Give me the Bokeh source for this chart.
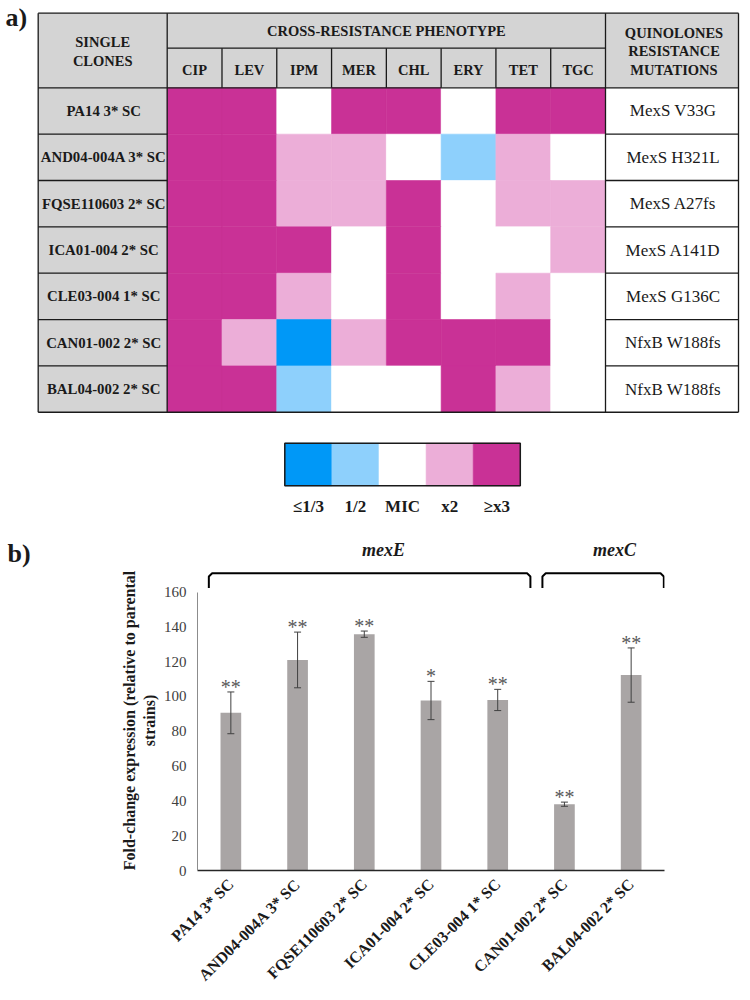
import math
from bokeh.plotting import figure
from bokeh.models import ColumnDataSource, Range1d, FixedTicker, FactorRange
from bokeh.layouts import column
from bokeh.embed import file_html
from bokeh.resources import INLINE
from bokeh.core.properties import value

# ---------------- data ----------------
clones = ["PA14 3* SC", "AND04-004A 3* SC", "FQSE110603 2* SC", "ICA01-004 2* SC",
          "CLE03-004 1* SC", "CAN01-002 2* SC", "BAL04-002 2* SC"]
antibiotics = ["CIP", "LEV", "IPM", "MER", "CHL", "ERY", "TET", "TGC"]
mutations = ["MexS V33G", "MexS H321L", "MexS A27fs", "MexS A141D", "MexS G136C",
             "NfxB W188fs", "NfxB W188fs"]
# phenotype level: -2 = <=1/3 MIC, -1 = 1/2 MIC, 0 = MIC, 1 = x2, 2 = >=x3
phenotype = [
    [2, 2, 0, 2, 2, 0, 2, 2],
    [2, 2, 1, 1, 0, -1, 1, 0],
    [2, 2, 1, 1, 2, 0, 1, 1],
    [2, 2, 2, 0, 2, 0, 0, 1],
    [2, 2, 1, 0, 2, 0, 1, 0],
    [2, 1, -2, 1, 2, 2, 2, 0],
    [2, 2, -1, 0, 0, 2, 1, 0],
]
legend_levels = [-2, -1, 0, 1, 2]
legend_labels = ["≤1/3", "1/2", "MIC", "x2", "≥x3"]
level_colors = {-2: "#0098F7", -1: "#8ED0FC", 0: "#FFFFFF", 1: "#ECAED8", 2: "#C93196"}

genes = ["mexE", "mexE", "mexE", "mexE", "mexE", "mexC", "mexC"]
fold_change = [90.6, 121.0, 135.8, 97.7, 98.0, 38.1, 112.3]
fold_err = [12.0, 16.0, 1.8, 11.0, 6.1, 1.2, 15.6]
significance = ["**", "**", "**", "*", "**", "**", "**"]
y_ticks = [0, 20, 40, 60, 80, 100, 120, 140, 160]

SERIF = value("Liberation Serif")
INK = "#1a1a1a"
W = 742

# ---------------- panel a (table) ----------------
HA = 570
pa = figure(width=W, height=HA, x_range=Range1d(0, W), y_range=Range1d(HA, 0),
            output_backend="svg", toolbar_location=None, min_border=0,
            x_axis_type=None, y_axis_type=None, outline_line_color=None, frame_align=False)
pa.grid.visible = False

T_L, T_R, T_T = 37.7, 738.0, 12.7
H1, H2 = 47.7, 87.3
ROW_H = 46.35
C1, C2 = 166.7, 605.0
n_rows = len(clones)
n_cols = len(antibiotics)
COL_W = (C2 - C1) / n_cols
T_B = H2 + n_rows * ROW_H
GRAY = "#D4D4D4"

# gray header & clone column
pa.quad(left=[T_L, T_L], right=[T_R, C1], top=[T_T, H2], bottom=[H2, T_B],
        fill_color=GRAY, line_color=GRAY, line_width=0.5)

# phenotype cells
cell = dict(left=[], right=[], top=[], bottom=[], color=[])
for i, row in enumerate(phenotype):
    for j, lev in enumerate(row):
        cell["left"].append(C1 + j * COL_W)
        cell["right"].append(C1 + (j + 1) * COL_W)
        cell["top"].append(H2 + i * ROW_H)
        cell["bottom"].append(H2 + (i + 1) * ROW_H)
        cell["color"].append(level_colors[lev])
pa.quad(left="left", right="right", top="top", bottom="bottom", fill_color="color",
        line_color="color", line_width=0.6, source=ColumnDataSource(cell))

# borders
seg = dict(x0=[], y0=[], x1=[], y1=[])
def add(x0, y0, x1, y1):
    seg["x0"].append(x0); seg["y0"].append(y0); seg["x1"].append(x1); seg["y1"].append(y1)
add(T_L, T_T, T_R, T_T); add(T_L, T_B, T_R, T_B)
add(T_L, T_T, T_L, T_B); add(T_R, T_T, T_R, T_B)
add(C1, T_T, C1, T_B); add(C2, T_T, C2, T_B)
add(C1, H1, C2, H1); add(T_L, H2, T_R, H2)
for k in range(1, n_cols):
    add(C1 + k * COL_W, H1, C1 + k * COL_W, H2)
for k in range(1, n_rows):
    y = H2 + k * ROW_H
    add(T_L, y, C1, y); add(C2, y, T_R, y)
pa.segment(x0="x0", y0="y0", x1="x1", y1="y1", source=ColumnDataSource(seg),
           line_color=INK, line_width=1.3)

row_centers = [H2 + (i + 0.5) * ROW_H for i in range(n_rows)]
pa.text(x=[(T_L + C1) / 2 + 1] * n_rows, y=row_centers, text=clones, text_font=SERIF,
        text_font_style="bold", text_font_size="14.8px", text_align="center",
        text_baseline="middle", text_color=INK)
pa.text(x=[(C2 + T_R) / 2 + 1] * n_rows, y=row_centers, text=mutations, text_font=SERIF,
        text_font_size="17px", text_align="center", text_baseline="middle", text_color=INK)
pa.text(x=[C1 + (j + 0.5) * COL_W for j in range(n_cols)], y=[69] * n_cols, text=antibiotics,
        text_font=SERIF, text_font_style="bold", text_font_size="14.5px", text_align="center",
        text_baseline="middle", text_color=INK)
hdr_text = ["SINGLE", "CLONES", "CROSS-RESISTANCE PHENOTYPE", "QUINOLONES", "RESISTANCE", "MUTATIONS"]
hdr_x = [(T_L + C1) / 2, (T_L + C1) / 2, (C1 + C2) / 2, (C2 + T_R) / 2 + 2, (C2 + T_R) / 2 + 2, (C2 + T_R) / 2 + 2]
hdr_y = [41.7, 60.7, 30.5, 32.3, 50.7, 69.0]
pa.text(x=hdr_x, y=hdr_y, text=hdr_text, text_font=SERIF, text_font_style="bold",
        text_font_size="14.5px", text_align="center", text_baseline="middle", text_color=INK)

# colour legend
LEG_L, LEG_W, LEG_T, LEG_B = 284.3, 47.1, 442.7, 485.3
nl = len(legend_levels)
pa.quad(left=[LEG_L + k * LEG_W for k in range(nl)], right=[LEG_L + (k + 1) * LEG_W for k in range(nl)],
        top=[LEG_T] * nl, bottom=[LEG_B] * nl, fill_color=[level_colors[l] for l in legend_levels],
        line_color=[level_colors[l] for l in legend_levels], line_width=0.6)
pa.quad(left=[LEG_L], right=[LEG_L + nl * LEG_W], top=[LEG_T], bottom=[LEG_B],
        fill_color=None, line_color=INK, line_width=1.5)
pa.text(x=[LEG_L + (k + 0.5) * LEG_W for k in range(nl)], y=[506] * nl, text=legend_labels,
        text_font=SERIF, text_font_style="bold", text_font_size="17px", text_align="center",
        text_baseline="middle", text_color=INK)

# panel letters and gene labels
pa.text(x=[5, 7], y=[17, 553], text=["a)", "b)"], text_font=SERIF, text_font_style="bold",
        text_font_size="26px", text_align="left", text_baseline="middle", text_color=INK)
pa.text(x=[383, 614], y=[549, 549], text=["mexE", "mexC"], text_font=SERIF,
        text_font_style="bold italic", text_font_size="18px", text_align="center",
        text_baseline="middle", text_color=INK)

# ---------------- panel b (bar chart) ----------------
HB = 422
pb = figure(width=W, height=HB, x_range=FactorRange(factors=clones, range_padding=0),
            y_range=Range1d(0, 172.4), output_backend="svg", toolbar_location=None,
            min_border_left=197, min_border_right=78, min_border_top=0, min_border_bottom=113,
            outline_line_color=None, frame_align=False)
pb.grid.visible = False

upper = [v + e for v, e in zip(fold_change, fold_err)]
lower = [v - e for v, e in zip(fold_change, fold_err)]
src = ColumnDataSource(dict(x=clones, y=fold_change, upper=upper, lower=lower, sig=significance))
pb.vbar(x="x", top="y", width=0.31, source=src, fill_color="#A9A5A5", line_color=None)
pb.segment(x0="x", y0="lower", x1="x", y1="upper", source=src, line_color="#404040", line_width=1)
pb.scatter(x="x", y="upper", marker="dash", size=7, source=src, line_color="#404040", line_width=1)
pb.scatter(x="x", y="lower", marker="dash", size=7, source=src, line_color="#404040", line_width=1)
pb.text(x="x", y="upper", text="sig", source=src, text_font=SERIF, text_font_size="20px",
        text_align="center", text_baseline="alphabetic", text_color="#595959", y_offset=-5)

# brackets grouping the genes
bx, by = [], []
BR_TOP, BR_TIP, CX, CY = 170.8, 162.4, 0.05, 1.8
for g in dict.fromkeys(genes):
    idx = [i for i, gg in enumerate(genes) if gg == g]
    l, r = idx[0] + 0.17, idx[-1] + 0.99
    bx.append([l, l, l + CX, r - CX, r, r])
    by.append([BR_TIP, BR_TOP - CY, BR_TOP, BR_TOP, BR_TOP - CY, BR_TIP])
pb.multi_line(xs=bx, ys=by, line_color="black", line_width=2)

pb.xaxis.axis_line_color = "#262626"
pb.xaxis.axis_line_width = 1.5
pb.xaxis.major_tick_line_color = None
pb.xaxis.major_tick_out = 0
pb.xaxis.major_tick_in = 0
pb.xaxis.major_label_orientation = math.pi / 4
pb.xaxis.major_label_text_font = "Liberation Serif"
pb.xaxis.major_label_text_font_style = "bold"
pb.xaxis.major_label_text_font_size = "16px"
pb.xaxis.major_label_text_color = INK
pb.xaxis.major_label_standoff = 11

pb.yaxis.ticker = FixedTicker(ticks=y_ticks)
pb.yaxis.bounds = (0, 160)
pb.yaxis.axis_line_color = "#8c8c8c"
pb.yaxis.major_tick_line_color = None
pb.yaxis.minor_tick_line_color = None
pb.yaxis.major_tick_out = 0
pb.yaxis.major_tick_in = 0
pb.yaxis.major_label_standoff = 11
pb.yaxis.major_label_text_font = "Liberation Serif"
pb.yaxis.major_label_text_font_size = "15px"
pb.yaxis.major_label_text_color = "#404040"
pb.yaxis.axis_label = "Fold-change expression (relative to parental\nstrains)"
pb.yaxis.axis_label_text_font = "Liberation Serif"
pb.yaxis.axis_label_text_font_style = "bold"
pb.yaxis.axis_label_text_font_size = "16px"
pb.yaxis.axis_label_text_color = INK
pb.yaxis.axis_label_standoff = 3

layout = column(pa, pb, spacing=0)
open("out.html", "w").write(file_html(layout, INLINE))
